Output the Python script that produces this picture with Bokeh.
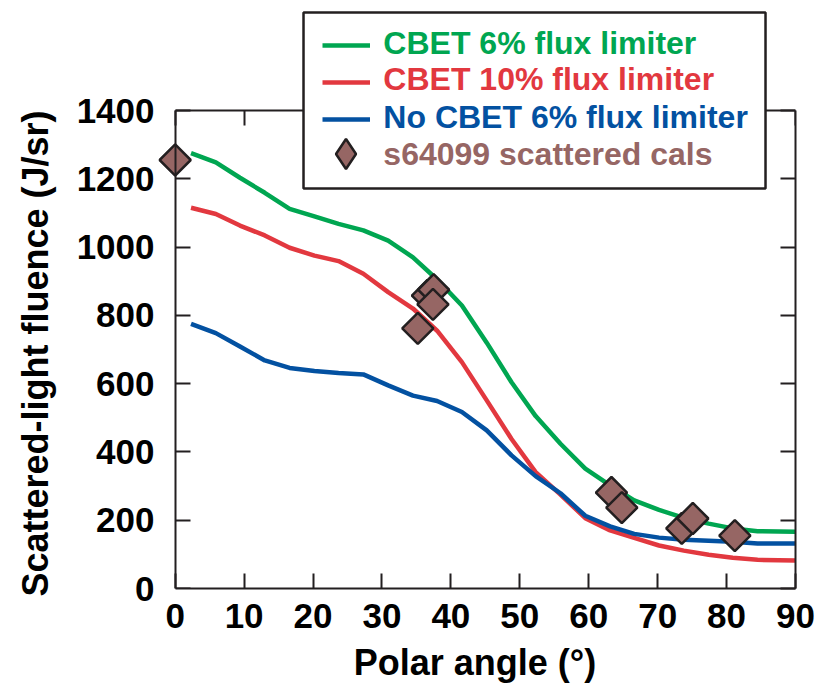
from bokeh.plotting import figure
from bokeh.models import (Range1d, FixedTicker, LinearAxis, Legend, LegendItem,
                          Label, CustomJSTickFormatter, BoxAnnotation)
from bokeh.core.properties import value
from bokeh.embed import file_html
from bokeh.resources import INLINE

# ---------------- data ----------------
polar_angle = [2.3, 5.9, 9.4, 13.0, 16.6, 20.2, 23.7, 27.3, 30.9, 34.5, 38.0, 41.6,
               45.2, 48.8, 52.3, 55.9, 59.5, 63.1, 66.6, 70.2, 73.8, 77.4, 80.9, 84.5, 90.0]
cbet_6pct = [1275, 1248, 1203, 1159, 1112, 1090, 1068, 1049, 1019, 970, 905, 829,
             720, 604, 505, 424, 351, 302, 258, 230, 207, 190, 176, 168, 166]
cbet_10pct = [1115, 1097, 1063, 1034, 998, 975, 959, 922, 868, 820, 755, 663,
              551, 438, 341, 275, 206, 170, 148, 126, 111, 99, 90, 84, 82]
no_cbet_6pct = [775, 748, 709, 668, 646, 637, 631, 627, 595, 565, 549, 517,
                463, 390, 329, 279, 213, 182, 160, 149, 143, 140, 137, 132, 132]
meas_angle = [0.0, 35.2, 36.6, 37.5, 37.4, 63.3, 64.8, 73.5, 75.1, 81.2]
meas_fluence = [1255, 762, 858, 875, 832, 281, 237, 176, 205, 155]

series_labels = ["CBET 6% flux limiter", "CBET 10% flux limiter",
                 "No CBET 6% flux limiter", "s64099 scattered cals"]
x_ticks = [0, 10, 20, 30, 40, 50, 60, 70, 80, 90]
y_ticks = [0, 200, 400, 600, 800, 1000, 1200, 1400]
X_MIN, X_MAX = 0, 90
Y_MIN, Y_MAX = 0, 1400

GREEN = "#00a651"
RED = "#e2383f"
BLUE = "#0351a1"
BROWN = "#966664"
DARK = "#231f20"
FONT = "Liberation Sans"
NBSP = "\u00a0"

# frame: extra room on the left (so the 0° marker is not cut) and on top (legend)
Y_TOP = Y_MAX * 580 / 478
p = figure(width=829, height=691, x_range=Range1d(-3, X_MAX), y_range=Range1d(Y_MIN, Y_TOP),
           output_backend="svg", toolbar_location=None,
           min_border_left=154, min_border_right=34, min_border_top=8,
           min_border_bottom=103)
p.outline_line_color = None
p.grid.visible = False
p.background_fill_color = "white"
p.border_fill_color = "white"


def style_axis(ax, ticks, show_labels, show_line=True):
    ax.ticker = FixedTicker(ticks=ticks, minor_ticks=[])
    ax.axis_line_color = DARK if show_line else None
    ax.axis_line_width = 2
    ax.major_tick_line_color = DARK if show_line else None
    ax.major_tick_line_width = 2
    ax.major_tick_in = 15 if show_line else 0
    ax.major_tick_out = 0
    ax.minor_tick_line_color = None
    ax.major_label_text_font = FONT
    ax.major_label_text_font_style = "bold"
    ax.major_label_text_font_size = "35px"
    ax.major_label_text_color = "black"
    ax.axis_label_text_font = FONT
    ax.axis_label_text_font_style = "bold"
    ax.axis_label_text_font_size = "36px"
    ax.axis_label_text_color = "black"
    if not show_labels:
        ax.formatter = CustomJSTickFormatter(code="return ''")
        ax.major_label_text_font_size = "1px"
        ax.major_label_standoff = 0


# bottom axis (labels, line, ticks)
xax = p.xaxis[0]
style_axis(xax, x_ticks, True)
xax.bounds = (X_MIN, X_MAX)
xax.axis_label = "Polar angle (°)"
xax.major_label_standoff = 15
xax.axis_label_standoff = 11

# left axis: labels only (at frame edge); title padded so it centres on 0-1400
yax = p.yaxis[0]
style_axis(yax, y_ticks, True, show_line=False)
yax.axis_label = "Scattered-light fluence (J/sr)" + NBSP * 11
yax.major_label_standoff = 0
yax.axis_label_standoff = 18

# left axis line + inward ticks at x = 0
left_line = LinearAxis(fixed_location=X_MIN)
style_axis(left_line, y_ticks, False)
left_line.bounds = (Y_MIN, Y_MAX)
p.add_layout(left_line, "left")

# right axis
right_ax = LinearAxis()
style_axis(right_ax, y_ticks, False)
right_ax.bounds = (Y_MIN, Y_MAX)
p.add_layout(right_ax, "right")

# top border at y = 1400 with inward ticks
top_ax = LinearAxis(fixed_location=Y_MAX)
style_axis(top_ax, x_ticks, False)
top_ax.bounds = (X_MIN, X_MAX)
p.add_layout(top_ax, "above")

# ---------------- curves ----------------
r_g = p.line(polar_angle, cbet_6pct, line_color=GREEN, line_width=4.5)
r_r = p.line(polar_angle, cbet_10pct, line_color=RED, line_width=4.5)
r_b = p.line(polar_angle, no_cbet_6pct, line_color=BLUE, line_width=4.5)
# legend key glyph (diamond), hidden under the plotted markers
r_key = p.scatter(meas_angle, meas_fluence, marker="diamond", size=18,
                  fill_color=BROWN, line_color=DARK, line_width=2.5)
p.scatter(meas_angle, meas_fluence, marker="square", angle=0.785398, size=22,
          fill_color=BROWN, line_color=DARK, line_width=2.5)

# ---------------- legend ----------------
legend_box = BoxAnnotation(left=18.62, right=85.65, bottom=1171.6, top=1687,
                           fill_color="white", fill_alpha=1.0,
                           line_color=DARK, line_alpha=1.0, line_width=2.5)
p.add_layout(legend_box)

leg = Legend(items=[LegendItem(label=value(""), renderers=[r_g]),
                    LegendItem(label=value(""), renderers=[r_r]),
                    LegendItem(label=value(""), renderers=[r_b]),
                    LegendItem(label=value(""), renderers=[r_key])],
             location=(168, 417), orientation="vertical", padding=0, spacing=7,
             margin=0, glyph_width=48, glyph_height=30, label_width=300,
             label_height=30, label_standoff=13, border_line_color=None,
             background_fill_alpha=0)
p.add_layout(leg)
leg2 = Legend(items=[LegendItem(label=value(""), renderers=[r_key])],
              location=(154, 397), padding=0, spacing=0, margin=0,
              glyph_width=75, glyph_height=75, label_width=0, label_height=0,
              label_standoff=0, border_line_color=None, background_fill_alpha=0)
p.add_layout(leg2)

label_colors = [GREEN, RED, BLUE, BROWN]
label_y = [1598, 1492, 1380, 1273]
for txt, col, yy in zip(series_labels, label_colors, label_y):
    p.add_layout(Label(x=30.2, y=yy, text=txt, text_color=col, text_font=FONT,
                       text_font_style="bold", text_font_size="32px",
                       text_baseline="middle", text_align="left"))

open("out.html", "w").write(file_html(p, INLINE))
